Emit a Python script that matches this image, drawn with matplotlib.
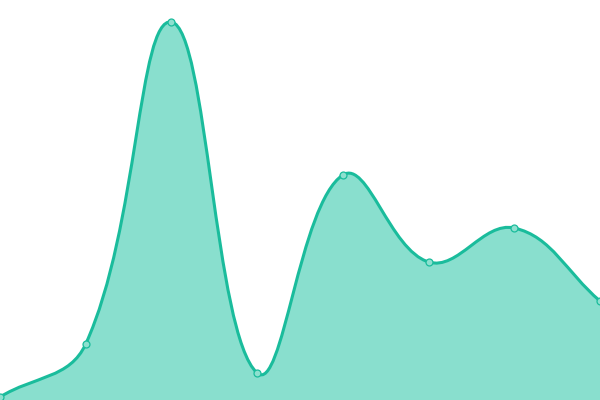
import numpy as np
import matplotlib
matplotlib.use("Agg")
import matplotlib.pyplot as plt
from matplotlib.path import Path
from matplotlib.patches import PathPatch

# values (baseline 0, top of chart 400)
labels = ["1", "2", "3", "4", "5", "6", "7", "8"]
values = [3, 56, 378, 27, 225, 138, 172, 99]

line_color = "#1abc9c"
fill_color = "#89dfce"
tension = 0.4

W, H = 600, 400
ymax = 400

fig = plt.figure(figsize=(6, 4), dpi=100)
ax = fig.add_axes([0, 0, 1, 1])
ax.set_xlim(0, len(values) - 1)
ax.set_ylim(0, ymax)
ax.axis("off")

x = np.arange(len(values), dtype=float)
y = np.array(values, dtype=float)

# pixel coordinates for distance weighting (like chart.js splineCurve)
px = x * W / (len(values) - 1)
py = y * H / ymax


def controls(i):
    n = len(px)
    p0 = i - 1 if i > 0 else i
    p2 = i + 1 if i < n - 1 else i
    d01 = np.hypot(px[i] - px[p0], py[i] - py[p0])
    d12 = np.hypot(px[p2] - px[i], py[p2] - py[i])
    s01 = d01 / (d01 + d12) if d01 + d12 else 0
    s12 = d12 / (d01 + d12) if d01 + d12 else 0
    fa, fb = tension * s01, tension * s12
    dx, dy = x[p2] - x[p0], y[p2] - y[p0]
    prev_c = (x[i] - fa * dx, y[i] - fa * dy)
    next_c = (x[i] + fb * dx, y[i] + fb * dy)
    return prev_c, next_c


ctrl = [controls(i) for i in range(len(x))]
verts = [(x[0], y[0])]
codes = [Path.MOVETO]
for i in range(1, len(x)):
    verts += [ctrl[i - 1][1], ctrl[i][0], (x[i], y[i])]
    codes += [Path.CURVE4] * 3

line_path = Path(verts, codes)
fill_verts = verts + [(x[-1], 0), (x[0], 0), (x[0], y[0])]
fill_codes = codes + [Path.LINETO, Path.LINETO, Path.CLOSEPOLY]
ax.add_patch(PathPatch(Path(fill_verts, fill_codes), facecolor=fill_color,
                       edgecolor="none"))
ax.add_patch(PathPatch(line_path, facecolor="none", edgecolor=line_color,
                       lw=2.2, capstyle="round", joinstyle="round"))
ax.plot(x, y, "o", ms=5, mfc="#8ee0cf", mec=line_color, mew=0.9,
        clip_on=False)

fig.savefig("out.png", dpi=100)
